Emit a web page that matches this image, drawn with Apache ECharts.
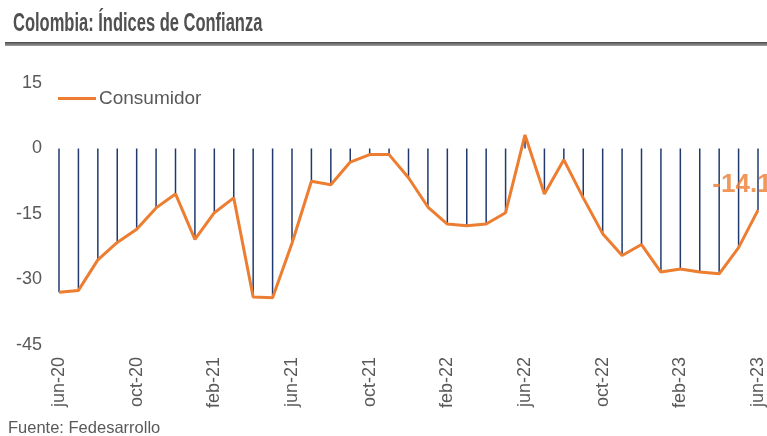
<!DOCTYPE html>
<html>
<head>
<meta charset="utf-8">
<script src="https://cdn.jsdelivr.net/npm/echarts@6/dist/echarts.min.js"></script>
<style>
    html, body { margin: 0; padding: 0; background: #fff; }
    #main { width: 767px; height: 436px; }
</style>
</head>
<body>
<div id="main"></div>
<script>
// meses jun-20 .. jun-23
const months = [
    'jun-20', 'jul-20', 'ago-20', 'sep-20', 'oct-20', 'nov-20', 'dic-20',
    'ene-21', 'feb-21', 'mar-21', 'abr-21', 'may-21', 'jun-21', 'jul-21', 'ago-21', 'sep-21', 'oct-21', 'nov-21', 'dic-21',
    'ene-22', 'feb-22', 'mar-22', 'abr-22', 'may-22', 'jun-22', 'jul-22', 'ago-22', 'sep-22', 'oct-22', 'nov-22', 'dic-22',
    'ene-23', 'feb-23', 'mar-23', 'abr-23', 'may-23', 'jun-23'
];

// Indice de confianza del consumidor
const consumidor = [
    -32.9, -32.5, -25.5, -21.5, -18.5, -13.6, -10.4,
    -20.8, -14.7, -11.3, -34.0, -34.2, -21.7, -7.5, -8.3, -3.1, -1.4, -1.4, -6.7,
    -13.4, -17.3, -17.7, -17.3, -14.7, 3.1, -10.4, -2.6, -11.3, -19.5, -24.5, -22.0,
    -28.3, -27.6, -28.3, -28.7, -22.7, -14.1
];

const yTicks = { min: -45, max: 15, step: 15 };

const lastIdx = consumidor.length - 1;
const lastPoint = consumidor.map((v, i) => (i === lastIdx ? v : null));

const grey = '#595959';
const orange = '#ED7D31';

const chart = echarts.init(document.getElementById('main'));

let option = {
    animation: false,
    textStyle: { fontFamily: 'Liberation Sans, Arial, sans-serif' },
    graphic: [
        {
            type: 'text',
            x: 13,
            y: 24,
            scaleX: 0.66,
            style: {
                text: 'Colombia: Índices de Confianza',
                font: 'bold 25px "Liberation Sans", Arial, sans-serif',
                fill: '#505050',
                verticalAlign: 'middle'
            }
        },
        {
            type: 'rect',
            shape: { x: 5, y: 42, width: 762, height: 4 },
            style: {
                fill: new echarts.graphic.LinearGradient(0, 0, 0, 1, [
                    { offset: 0, color: '#4a4a4a' },
                    { offset: 1, color: '#a0a0a0' }
                ])
            }
        },
        {
            type: 'text',
            x: 8,
            y: 428,
            style: {
                text: 'Fuente: Fedesarrollo',
                font: '16.5px "Liberation Sans", Arial, sans-serif',
                fill: grey,
                verticalAlign: 'middle'
            }
        }
    ],
    legend: {
        data: [{ name: 'Consumidor', icon: 'rect' }],
        left: 58,
        top: 89,
        padding: 0,
        itemWidth: 38,
        itemHeight: 3,
        itemGap: 3,
        textStyle: { color: grey, fontSize: 19, padding: [0, 0, 0, -2] }
    },
    grid: {
        left: 59,
        right: 8,
        top: 83,
        bottom: 91
    },
    xAxis: {
        type: 'category',
        data: months,
        boundaryGap: false,
        axisLine: { show: false },
        axisTick: { show: false },
        axisLabel: {
            interval: 3,
            rotate: 90,
            margin: 12,
            color: grey,
            fontSize: 18
        },
        splitLine: { show: false }
    },
    yAxis: {
        type: 'value',
        min: yTicks.min,
        max: yTicks.max,
        interval: yTicks.step,
        axisLine: { show: false },
        axisTick: { show: false },
        splitLine: { show: false },
        axisLabel: {
            color: grey,
            fontSize: 18,
            margin: 17
        }
    },
    series: [
        {
            name: 'lineas',
            type: 'bar',
            data: consumidor,
            barWidth: 1.5,
            itemStyle: { color: '#203a70' },
            z: 1
        },
        {
            name: 'Consumidor',
            type: 'line',
            data: consumidor,
            symbol: 'none',
            lineStyle: { color: orange, width: 3 },
            itemStyle: { color: orange },
            z: 3
        },
        {
            name: 'ultimo',
            type: 'scatter',
            data: lastPoint,
            symbolSize: 0,
            z: 4,
            label: {
                show: true,
                position: 'inside',
                offset: [-16, -25],
                formatter: (p) => p.value.toFixed(1),
                color: orange,
                fontSize: 26,
                fontWeight: 'bold'
            }
        }
    ]
};

chart.setOption(option);
</script>
</body>
</html>
